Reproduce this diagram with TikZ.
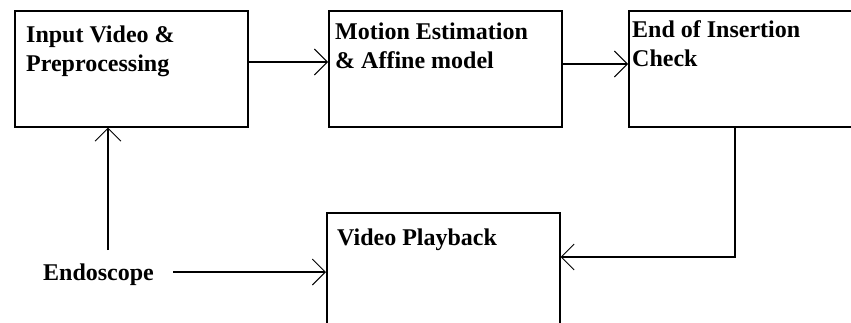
\documentclass[tikz,border=0pt]{standalone}
\usepackage{fontspec}
\setmainfont{Liberation Serif}
\usetikzlibrary{arrows.meta}
\begin{document}
\begin{tikzpicture}[x=1pt,y=-1pt,
  box/.style={draw, line width=1.5pt, rectangle, inner sep=0pt, anchor=north west,
              minimum width=233pt, minimum height=116pt},
  lbl/.style={font=\fontsize{24}{29}\selectfont\bfseries, anchor=base west,
              inner sep=0pt, align=left},
  arr/.style={line width=1.5pt,
              -{Straight Barb[length=13pt,width=26pt,line width=0.9pt]}}]
\useasboundingbox (0,0) rectangle (851,322);
\clip (0,0) rectangle (851,322);

% processing blocks
\node[box] (b1) at (14,10) {};
\node[box] (b2) at (328,10) {};
\node[box, minimum width=250pt] (b3) at (628,10) {};
\node[box, minimum height=130pt] (b4) at (326,212) {};

% block titles (the base anchor sits on the last line)
\node[lbl] (t1) at (26,71) {Input Video \&\\Preprocessing};
\node[lbl] (t2) at (335,68) {Motion Estimation\\\& Affine model};
\node[lbl] (t3) at (632,66) {End of Insertion\\Check};
\node[lbl] (t4) at (337,245) {Video Playback};
\node[lbl] (endo) at (43,280) {Endoscope};

% connectors
\coordinate (endoOut) at (173,272);
\coordinate (endoUp) at (108,250);
\coordinate (fb) at (735,257);

\draw[arr] (b1.east |- 0,62) -- (b2.west |- 0,62);
\draw[arr] (b2.east |- 0,64) -- (b3.west |- 0,64);
\draw[arr] (fb |- b3.south) -- (fb) -- (fb -| b4.east);
\draw[arr] (endoOut) -- (endoOut -| b4.west);
\draw[arr] (endoUp) -- (endoUp |- b1.south);
\end{tikzpicture}
\end{document}
